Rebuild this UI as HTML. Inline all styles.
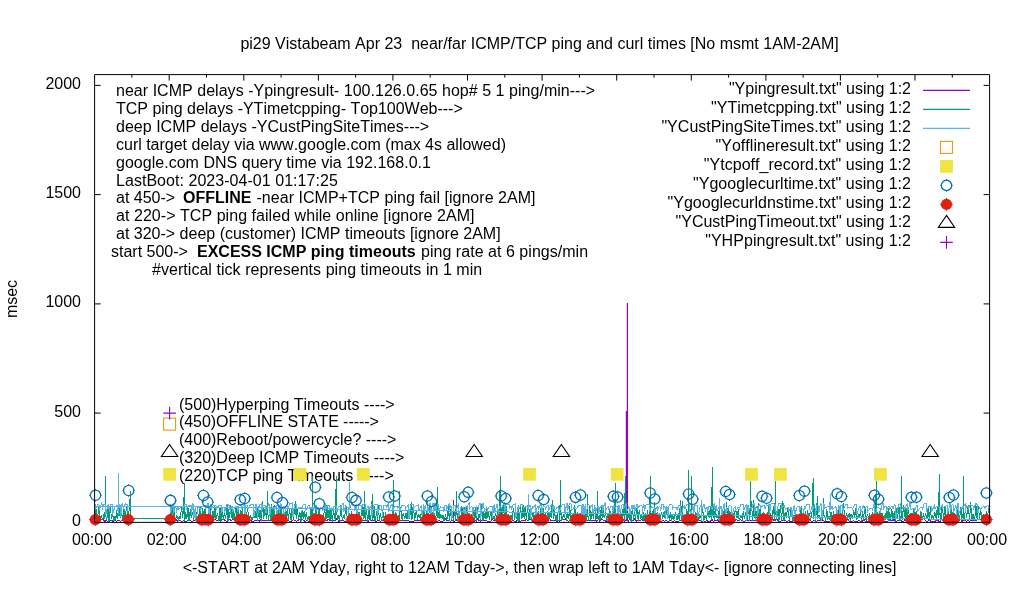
<!DOCTYPE html><html><head><meta charset="utf-8"><style>html,body{margin:0;padding:0;background:#fff;}svg{display:block;}g.t{opacity:0.999;}text{font-kerning:none;font-family:"Liberation Sans",sans-serif;font-size:16px;fill:#000;}</style></head><body>
<svg width="1020" height="600" viewBox="0 0 1020 600">
<rect width="1020" height="600" fill="#fff"/>
<path d="M94.6,522.4 h6 M989.6,522.4 h-6 M94.6,413.1 h6 M989.6,413.1 h-6 M94.6,303.9 h6 M989.6,303.9 h-6 M94.6,194.6 h6 M989.6,194.6 h-6 M94.6,85.4 h6 M989.6,85.4 h-6 M131.9,74.6 v3 M131.9,522.4 v-3 M169.2,74.6 v6 M169.2,522.4 v-6 M206.5,74.6 v3 M206.5,522.4 v-3 M243.8,74.6 v6 M243.8,522.4 v-6 M281.1,74.6 v3 M281.1,522.4 v-3 M318.4,74.6 v6 M318.4,522.4 v-6 M355.6,74.6 v3 M355.6,522.4 v-3 M392.9,74.6 v6 M392.9,522.4 v-6 M430.2,74.6 v3 M430.2,522.4 v-3 M467.5,74.6 v6 M467.5,522.4 v-6 M504.8,74.6 v3 M504.8,522.4 v-3 M542.1,74.6 v6 M542.1,522.4 v-6 M579.4,74.6 v3 M579.4,522.4 v-3 M616.7,74.6 v6 M616.7,522.4 v-6 M654.0,74.6 v3 M654.0,522.4 v-3 M691.3,74.6 v6 M691.3,522.4 v-6 M728.6,74.6 v3 M728.6,522.4 v-3 M765.9,74.6 v6 M765.9,522.4 v-6 M803.1,74.6 v3 M803.1,522.4 v-3 M840.4,74.6 v6 M840.4,522.4 v-6 M877.7,74.6 v3 M877.7,522.4 v-3 M915.0,74.6 v6 M915.0,522.4 v-6 M952.3,74.6 v3 M952.3,522.4 v-3" fill="none" stroke="#000" stroke-width="1"/>
<g class="t">
<text x="539.6" y="49.0" text-anchor="middle" xml:space="preserve">pi29 Vistabeam Apr 23  near/far ICMP/TCP ping and curl times [No msmt 1AM-2AM]</text>
<text x="81.0" y="525.9" text-anchor="end" xml:space="preserve">0</text>
<text x="81.0" y="416.6" text-anchor="end" xml:space="preserve">500</text>
<text x="81.0" y="307.4" text-anchor="end" xml:space="preserve">1000</text>
<text x="81.0" y="198.1" text-anchor="end" xml:space="preserve">1500</text>
<text x="81.0" y="88.9" text-anchor="end" xml:space="preserve">2000</text>
<text x="92.1" y="545.0" text-anchor="middle" xml:space="preserve">00:00</text>
<text x="166.7" y="545.0" text-anchor="middle" xml:space="preserve">02:00</text>
<text x="241.3" y="545.0" text-anchor="middle" xml:space="preserve">04:00</text>
<text x="315.9" y="545.0" text-anchor="middle" xml:space="preserve">06:00</text>
<text x="390.4" y="545.0" text-anchor="middle" xml:space="preserve">08:00</text>
<text x="465.0" y="545.0" text-anchor="middle" xml:space="preserve">10:00</text>
<text x="539.6" y="545.0" text-anchor="middle" xml:space="preserve">12:00</text>
<text x="614.2" y="545.0" text-anchor="middle" xml:space="preserve">14:00</text>
<text x="688.8" y="545.0" text-anchor="middle" xml:space="preserve">16:00</text>
<text x="763.4" y="545.0" text-anchor="middle" xml:space="preserve">18:00</text>
<text x="837.9" y="545.0" text-anchor="middle" xml:space="preserve">20:00</text>
<text x="912.5" y="545.0" text-anchor="middle" xml:space="preserve">22:00</text>
<text x="987.1" y="545.0" text-anchor="middle" xml:space="preserve">00:00</text>
<text x="539.5" y="573.0" text-anchor="middle" xml:space="preserve">&lt;-START at 2AM Yday, right to 12AM Tday-&gt;, then wrap left to 1AM Tday&lt;- [ignore connecting lines]</text>
<text x="17" y="299" text-anchor="middle" transform="rotate(-90 17 299)">msec</text>
<text x="116.0" y="96.0" textLength="479.16" lengthAdjust="spacing" xml:space="preserve">near ICMP delays -Ypingresult- 100.126.0.65 hop# 5 1 ping/min---&gt;</text>
<text x="116.0" y="113.8" textLength="346.75" lengthAdjust="spacing" xml:space="preserve">TCP ping delays -YTimetcpping- Top100Web---&gt;</text>
<text x="116.0" y="131.7" textLength="313.15" lengthAdjust="spacing" xml:space="preserve">deep ICMP delays -YCustPingSiteTimes---&gt;</text>
<text x="116.0" y="149.6" textLength="389.98" lengthAdjust="spacing" xml:space="preserve">curl target delay via www.google.com (max 4s allowed)</text>
<text x="116.0" y="167.7" textLength="314.95" lengthAdjust="spacing" xml:space="preserve">google.com DNS query time via 192.168.0.1</text>
<text x="116.0" y="186.0" textLength="221.82" lengthAdjust="spacing" xml:space="preserve">LastBoot: 2023-04-01 01:17:25</text>
<text x="116.0" y="203.1" xml:space="preserve">at 450-&gt;</text>
<text x="183.0" y="203.1" font-weight="bold" xml:space="preserve">OFFLINE</text>
<text x="256.5" y="203.1" textLength="278.99" lengthAdjust="spacing" xml:space="preserve">-near ICMP+TCP ping fail [ignore 2AM]</text>
<text x="116.0" y="221.0" textLength="358.50" lengthAdjust="spacing" xml:space="preserve">at 220-&gt; TCP ping failed while online [ignore 2AM]</text>
<text x="116.0" y="238.8" xml:space="preserve">at 320-&gt; deep (customer) ICMP timeouts [ignore 2AM]</text>
<text x="111.0" y="256.6" xml:space="preserve">start 500-&gt;</text>
<text x="197.0" y="256.6" font-weight="bold" xml:space="preserve">EXCESS ICMP ping timeouts</text>
<text x="421.0" y="256.6" textLength="167.12" lengthAdjust="spacing" xml:space="preserve">ping rate at 6 pings/min</text>
<text x="152.0" y="274.5" textLength="330.24" lengthAdjust="spacing" xml:space="preserve">#vertical tick represents ping timeouts in 1 min</text>
<text x="911.0" y="94.4" text-anchor="end" xml:space="preserve">"Ypingresult.txt" using 1:2</text>
<text x="911.0" y="113.4" text-anchor="end" xml:space="preserve">"YTimetcpping.txt" using 1:2</text>
<text x="911.0" y="132.4" text-anchor="end" textLength="249.60" lengthAdjust="spacing" xml:space="preserve">"YCustPingSiteTimes.txt" using 1:2</text>
<text x="911.0" y="151.4" text-anchor="end" textLength="195.47" lengthAdjust="spacing" xml:space="preserve">"Yofflineresult.txt" using 1:2</text>
<text x="911.0" y="170.4" text-anchor="end" textLength="207.23" lengthAdjust="spacing" xml:space="preserve">"Ytcpoff_record.txt" using 1:2</text>
<text x="911.0" y="189.4" text-anchor="end" textLength="218.00" lengthAdjust="spacing" xml:space="preserve">"Ygooglecurltime.txt" using 1:2</text>
<text x="911.0" y="208.4" text-anchor="end" textLength="243.50" lengthAdjust="spacing" xml:space="preserve">"Ygooglecurldnstime.txt" using 1:2</text>
<text x="911.0" y="227.4" text-anchor="end" xml:space="preserve">"YCustPingTimeout.txt" using 1:2</text>
<text x="911.0" y="246.4" text-anchor="end" textLength="205.85" lengthAdjust="spacing" xml:space="preserve">"YHPpingresult.txt" using 1:2</text>
<text x="179.0" y="409.7" xml:space="preserve">(500)Hyperping Timeouts ----&gt;</text>
<text x="179.0" y="426.9" textLength="199.75" lengthAdjust="spacing" xml:space="preserve">(450)OFFLINE STATE -----&gt;</text>
<text x="179.0" y="445.2" xml:space="preserve">(400)Reboot/powercycle? ----&gt;</text>
<text x="179.0" y="463.4" xml:space="preserve">(320)Deep ICMP Timeouts ----&gt;</text>
<text x="179.0" y="480.9" xml:space="preserve">(220)TCP ping Timeouts -----&gt;</text>
</g>
<clipPath id="cp"><rect x="94.6" y="74.6" width="895.0" height="447.8"/></clipPath>
<g clip-path="url(#cp)">
<path d="M94.6,519.5 L96.6,519.8 L98.6,520.9 L99.6,521.4 L101.0,520.0 L102.9,518.9 L104.7,521.4 L106.3,520.7 L107.8,521.3 L109.7,521.0 L110.8,520.9 L111.9,520.7 L113.0,521.3 L114.7,520.7 L116.0,521.1 L117.8,520.9 L119.8,520.8 L120.8,521.3 L122.1,520.6 L124.1,520.6 L125.8,521.3 L127.7,520.8 L129.6,519.5 L131.7,519.4 L130.9,518.4 L168.2,518.4 L169.2,520.7 L170.2,520.7 L172.1,520.8 L173.6,519.8 L175.8,519.4 L177.5,521.1 L178.8,519.6 L180.0,520.9 L182.1,521.1 L183.7,521.0 L185.0,521.3 L187.2,521.0 L188.7,520.7 L190.0,520.8 L191.0,521.1 L192.7,521.1 L194.1,520.8 L196.0,519.4 L197.6,520.9 L199.2,520.7 L201.3,521.4 L203.1,520.6 L204.8,521.2 L206.3,521.1 L208.0,520.7 L209.8,521.4 L211.4,520.9 L212.6,521.2 L213.7,518.6 L215.8,519.9 L217.3,520.7 L218.8,518.7 L220.4,521.2 L222.1,519.4 L223.4,518.6 L225.2,520.7 L226.5,521.1 L227.8,521.2 L229.8,519.3 L231.2,520.9 L233.0,518.9 L235.1,521.1 L236.7,521.4 L238.6,518.5 L239.6,520.6 L240.8,518.5 L242.0,520.9 L243.6,521.3 L245.3,520.8 L246.7,521.3 L248.3,521.2 L249.6,520.8 L250.8,520.8 L252.7,521.4 L254.1,521.0 L255.2,520.7 L256.2,520.8 L257.5,520.7 L259.4,521.0 L261.0,519.7 L262.3,520.7 L263.9,520.8 L266.1,519.9 L267.6,520.9 L268.7,519.5 L270.1,520.9 L272.1,521.0 L273.2,520.9 L274.5,521.1 L276.0,520.7 L277.6,521.4 L279.1,521.1 L280.3,520.6 L282.4,520.6 L284.3,521.2 L285.3,521.2 L286.6,519.4 L288.2,520.8 L289.8,521.1 L291.5,521.3 L293.2,519.7 L295.1,520.8 L296.2,521.1 L297.9,520.8 L299.2,519.0 L300.6,521.1 L302.5,519.6 L304.7,521.1 L306.1,521.0 L307.7,520.8 L309.3,521.3 L311.5,520.6 L313.6,521.4 L315.4,518.8 L317.0,521.0 L319.0,520.7 L320.3,521.1 L322.2,519.6 L323.8,520.8 L325.5,519.5 L326.5,520.8 L328.5,519.3 L329.8,520.9 L331.5,520.7 L332.5,520.9 L334.6,520.8 L336.7,518.9 L338.9,521.2 L340.0,520.9 L341.4,520.7 L343.4,520.9 L345.6,521.3 L347.8,521.1 L348.8,521.1 L349.8,520.9 L351.4,520.7 L353.2,520.9 L355.3,520.8 L357.5,521.0 L359.4,520.9 L361.2,521.1 L362.3,520.8 L363.5,520.6 L365.1,520.7 L367.0,521.0 L368.4,521.0 L369.8,519.1 L371.8,521.0 L373.0,519.9 L375.2,521.1 L376.8,521.0 L378.6,520.7 L380.6,521.2 L382.2,520.6 L383.2,519.8 L384.9,521.1 L386.0,520.9 L387.8,520.8 L389.4,520.6 L390.6,521.0 L392.9,521.2 L395.1,521.2 L396.1,521.0 L398.0,521.2 L399.0,519.4 L400.6,520.7 L401.8,520.6 L403.6,520.7 L405.7,521.0 L406.9,520.7 L407.9,520.8 L410.1,521.3 L411.9,521.2 L413.2,521.2 L415.0,520.7 L417.0,520.7 L418.4,520.6 L419.9,520.8 L420.9,519.6 L422.2,520.7 L423.5,520.7 L425.4,520.7 L427.5,519.3 L428.6,521.3 L430.5,519.2 L432.0,521.1 L434.2,519.8 L435.6,521.1 L437.8,521.2 L439.0,520.8 L440.3,521.0 L441.6,521.2 L443.7,520.8 L445.2,518.8 L446.2,520.6 L447.9,520.7 L449.6,520.8 L450.8,521.1 L452.6,520.8 L453.2,521.0 L453.3,500.0 L453.4,521.0 L454.5,521.2 L456.5,520.0 L458.5,521.1 L459.6,521.1 L461.0,519.3 L462.4,520.7 L464.5,521.4 L466.0,521.4 L467.0,520.6 L469.2,520.7 L470.2,521.4 L472.4,521.2 L474.0,521.1 L475.1,520.9 L476.5,521.2 L477.6,518.8 L479.3,520.9 L480.4,521.1 L482.5,520.9 L484.6,521.0 L485.6,520.7 L487.2,521.1 L488.6,521.3 L490.1,521.1 L491.2,520.9 L492.2,518.8 L493.4,520.7 L494.7,520.6 L496.5,519.8 L497.7,521.1 L499.5,520.8 L500.6,520.7 L502.6,521.4 L504.4,520.9 L505.8,520.6 L507.3,521.3 L509.4,519.0 L511.3,521.2 L512.7,520.7 L514.6,521.2 L516.3,521.2 L518.2,519.4 L520.0,521.4 L521.4,520.8 L523.3,520.8 L525.0,521.0 L526.1,518.6 L527.9,521.0 L529.5,519.2 L531.5,520.0 L532.5,521.3 L534.7,521.3 L536.5,519.9 L537.6,521.1 L539.5,521.3 L541.5,521.1 L543.4,520.8 L544.5,521.1 L545.9,521.1 L547.9,521.4 L549.3,518.5 L551.4,520.9 L553.0,520.7 L554.8,520.8 L556.3,521.1 L557.3,521.2 L558.4,520.9 L559.8,521.1 L562.0,518.7 L563.7,519.4 L565.5,518.7 L567.0,520.8 L568.8,521.3 L570.0,520.6 L571.9,521.1 L573.0,520.8 L574.6,521.3 L576.0,521.2 L577.4,520.9 L579.4,519.2 L581.1,521.2 L582.2,520.8 L583.6,520.6 L584.9,521.3 L586.7,520.8 L588.1,519.8 L590.1,520.9 L591.6,520.7 L593.7,520.7 L595.8,520.8 L597.0,521.2 L598.4,519.5 L599.7,521.0 L601.8,518.9 L604.0,520.8 L606.2,521.1 L607.2,521.2 L608.8,521.3 L610.8,518.8 L612.2,520.9 L613.2,519.2 L614.2,520.8 L615.3,520.7 L616.8,520.9 L619.0,520.7 L621.1,521.3 L623.2,519.9 L624.6,521.1 L626.1,519.7 L628.3,521.2 L629.5,519.7 L631.4,521.3 L632.4,521.0 L634.6,518.8 L636.1,521.2 L638.3,520.0 L640.2,520.9 L641.8,519.1 L643.1,520.9 L645.3,520.7 L646.3,521.0 L647.9,518.6 L649.2,520.9 L650.7,520.7 L652.3,521.2 L653.8,520.9 L655.4,520.6 L657.1,520.8 L658.8,520.7 L660.6,521.1 L662.7,520.9 L664.9,521.1 L666.3,520.8 L668.1,521.3 L669.0,520.9 L671.1,520.7 L672.6,521.2 L674.3,520.9 L676.5,521.4 L678.2,521.1 L679.7,520.8 L681.5,521.0 L683.8,521.2 L685.0,521.0 L686.0,520.9 L687.5,520.7 L689.7,518.7 L690.9,520.7 L692.7,519.8 L694.1,519.8 L696.3,521.2 L697.8,519.4 L698.8,519.6 L700.4,520.8 L702.2,521.3 L703.7,520.9 L705.1,521.2 L706.9,520.8 L708.4,521.4 L710.4,521.3 L712.1,519.7 L713.2,521.3 L714.4,520.7 L715.6,520.7 L717.7,519.9 L718.8,521.3 L720.3,521.3 L721.7,521.3 L722.7,519.0 L724.4,521.3 L726.0,520.7 L727.3,520.6 L728.7,519.8 L730.0,521.2 L731.8,520.9 L733.3,520.9 L735.0,520.8 L736.1,519.1 L738.2,520.9 L740.1,519.3 L741.9,520.7 L743.5,521.2 L744.8,521.4 L746.4,519.7 L748.4,520.9 L749.5,521.0 L751.7,520.7 L753.5,521.0 L755.0,520.6 L756.6,521.0 L758.5,521.1 L760.2,520.8 L761.6,521.3 L763.3,521.0 L764.6,521.1 L766.8,521.2 L768.5,518.8 L769.5,519.8 L771.5,520.8 L772.7,519.3 L774.9,521.1 L776.4,518.8 L778.5,521.2 L780.0,521.1 L782.2,520.9 L784.0,521.0 L785.4,520.8 L786.6,521.3 L788.4,520.9 L789.9,521.2 L792.1,521.3 L793.3,520.9 L794.5,521.0 L796.1,521.2 L798.0,521.1 L799.1,521.1 L800.3,521.0 L801.9,520.8 L803.7,520.7 L805.8,520.8 L808.0,520.7 L809.6,519.2 L811.6,521.4 L813.1,520.9 L814.7,521.0 L816.3,521.1 L818.0,520.8 L820.1,520.9 L821.6,519.0 L823.3,520.9 L824.4,521.3 L826.6,521.1 L828.0,521.3 L829.1,521.3 L830.6,520.9 L832.5,521.3 L834.6,521.2 L835.6,521.0 L837.0,521.2 L838.8,520.8 L840.2,521.2 L842.4,521.0 L843.4,521.1 L845.1,519.0 L846.1,521.2 L848.0,518.7 L849.2,521.2 L850.6,521.2 L852.3,521.4 L853.3,520.8 L855.2,521.2 L857.3,521.1 L859.4,520.9 L861.1,521.2 L862.6,521.0 L864.0,519.5 L865.0,521.1 L866.3,521.3 L867.6,521.0 L869.2,521.0 L870.6,521.0 L871.9,520.6 L873.7,519.0 L875.0,521.2 L876.3,520.6 L878.4,521.1 L879.9,521.0 L881.6,521.1 L883.3,521.3 L885.5,521.4 L887.2,521.1 L888.8,520.9 L889.8,519.6 L892.0,520.9 L894.1,519.7 L895.3,521.1 L896.3,521.3 L897.9,520.6 L900.0,520.6 L902.2,521.2 L903.9,521.2 L905.0,519.1 L906.1,521.2 L907.6,518.8 L909.2,521.3 L910.6,521.4 L912.8,521.1 L914.4,520.7 L916.4,521.2 L917.9,521.1 L919.4,520.9 L920.5,520.6 L922.0,518.6 L924.2,519.0 L925.5,520.6 L926.6,521.4 L927.9,521.0 L929.2,518.9 L930.7,521.3 L932.4,521.1 L933.8,521.3 L935.7,521.2 L936.7,519.1 L938.6,521.2 L940.2,521.2 L941.4,518.5 L943.4,521.2 L945.1,520.9 L947.2,521.2 L949.1,520.7 L951.1,520.9 L953.2,520.7 L954.8,521.1 L955.8,518.9 L957.0,519.8 L958.5,521.3 L960.6,519.5 L961.8,521.2 L963.2,520.8 L965.3,520.9 L966.3,521.2 L968.2,520.8 L969.7,521.2 L970.6,520.9 L972.0,519.6 L973.5,520.8 L975.3,521.0 L977.1,519.6 L979.1,519.2 L981.3,519.0 L982.9,521.3 L985.0,521.0 L986.4,520.0 L988.3,520.9" fill="none" stroke="#9400d3" stroke-width="1.00" shape-rendering="crispEdges"/>
<path d="M627.4,520 V303 M626.4,520 V411" stroke="#9400d3" stroke-width="1.2" fill="none"/>
<path d="M94.6,520.0 L96.2,508.6 L97.5,519.8 L98.8,505.7 L99.8,520.8 L101.2,515.9 L102.9,520.2 L103.7,513.6 L104.5,518.8 L105.3,508.1 L105.4,476.0 L105.5,515.0 L106.8,520.2 L108.0,508.2 L109.0,521.5 L110.5,507.2 L111.4,518.2 L112.9,515.2 L114.0,521.0 L114.7,515.6 L115.9,519.4 L116.7,510.4 L117.6,519.2 L119.3,505.8 L120.2,518.2 L121.7,513.8 L122.9,520.6 L123.7,505.8 L124.9,518.9 L126.5,507.1 L128.1,519.4 L129.6,505.7 L130.5,491.0 L130.6,515.0 L131.3,518.9 L132.4,518.7 L169.2,518.7 L169.2,519.0 L170.0,513.9 L170.9,519.3 L172.1,503.9 L173.4,518.6 L174.2,506.5 L175.2,520.6 L176.8,515.8 L178.4,519.5 L179.2,515.8 L180.1,518.9 L181.7,507.1 L182.5,518.2 L183.5,511.0 L184.5,483.5 L184.6,515.0 L184.8,521.2 L185.7,512.3 L186.9,518.6 L187.9,505.9 L189.0,521.4 L190.3,509.1 L191.2,518.1 L192.8,511.7 L193.5,519.7 L195.0,516.0 L195.7,520.6 L197.3,509.9 L198.8,519.2 L200.2,507.0 L201.3,521.0 L202.6,507.7 L203.9,518.3 L205.2,507.0 L206.6,520.6 L207.9,515.2 L208.7,518.1 L210.0,506.6 L211.4,520.2 L213.0,511.1 L214.0,518.7 L214.9,505.3 L216.0,519.1 L217.4,513.2 L218.9,521.1 L220.0,507.2 L220.8,520.9 L222.3,511.7 L223.3,519.6 L224.3,513.1 L225.6,519.1 L227.2,503.6 L228.0,521.1 L228.7,509.0 L229.7,518.1 L230.6,505.2 L232.1,518.5 L232.9,508.1 L234.2,520.8 L235.8,506.4 L237.0,518.0 L238.2,506.3 L239.2,520.4 L240.4,510.3 L241.5,521.2 L242.3,505.8 L243.1,520.2 L244.7,513.8 L246.3,521.3 L247.4,506.4 L248.9,520.2 L250.3,515.5 L251.9,519.9 L253.4,515.5 L255.0,518.3 L256.1,510.4 L257.3,520.8 L258.1,506.2 L259.1,518.5 L260.0,510.1 L261.5,521.3 L262.7,500.7 L263.6,519.0 L265.0,508.7 L266.6,519.1 L267.5,490.9 L267.6,515.0 L267.7,511.3 L268.6,521.4 L269.8,506.4 L271.0,520.1 L271.8,504.1 L272.9,520.0 L274.1,505.5 L275.3,521.3 L276.9,513.4 L277.8,520.9 L279.3,507.2 L280.2,521.2 L281.1,505.2 L282.0,520.4 L283.0,514.1 L283.8,518.4 L285.1,512.0 L286.3,519.3 L287.4,506.1 L288.3,520.2 L289.5,509.3 L291.1,520.6 L292.6,502.5 L293.6,518.8 L295.3,501.1 L296.2,518.9 L297.1,508.0 L298.5,519.4 L299.9,512.0 L301.3,521.4 L302.1,510.3 L303.3,518.7 L304.1,511.2 L305.4,520.0 L306.2,512.0 L307.7,521.2 L308.6,515.8 L309.7,519.1 L310.9,508.0 L312.2,520.5 L312.4,476.0 L312.5,515.0 L313.7,513.3 L315.1,518.7 L316.0,505.1 L317.6,520.5 L319.1,507.8 L320.4,521.4 L321.9,515.6 L323.4,520.9 L324.5,507.0 L325.9,520.7 L327.0,505.5 L328.0,518.0 L329.1,509.4 L330.0,520.3 L331.1,509.0 L332.3,521.5 L333.6,510.3 L335.3,520.2 L336.3,476.0 L336.4,515.0 L336.7,513.0 L337.5,519.3 L338.3,515.5 L339.6,521.4 L340.8,505.1 L342.3,520.1 L343.8,515.7 L344.6,518.6 L345.8,505.4 L347.5,519.8 L348.8,512.4 L350.1,519.0 L351.5,511.1 L352.5,518.5 L353.9,515.5 L355.4,521.5 L357.0,515.5 L358.1,521.4 L359.1,511.6 L360.5,521.4 L362.0,505.8 L363.3,518.7 L364.1,505.9 L364.6,491.0 L364.7,515.0 L365.2,519.6 L366.2,507.9 L367.7,521.5 L369.3,506.7 L370.1,520.7 L371.4,512.4 L372.4,494.0 L372.5,515.0 L372.8,520.1 L374.2,506.3 L375.1,521.2 L376.7,511.3 L377.7,520.2 L378.5,505.5 L379.3,519.9 L380.6,513.4 L381.5,520.6 L383.0,511.6 L384.5,520.7 L385.5,512.3 L387.0,520.3 L388.6,513.7 L390.1,519.5 L391.1,515.4 L391.9,520.0 L393.1,507.1 L393.5,480.2 L393.6,515.0 L394.6,518.7 L395.9,512.5 L397.4,519.0 L398.2,514.6 L399.3,520.5 L399.5,491.0 L399.6,515.0 L400.6,507.5 L402.2,520.8 L403.2,513.0 L404.8,518.9 L405.9,512.8 L407.0,518.7 L408.2,508.8 L409.7,518.6 L411.2,502.3 L411.9,519.9 L413.2,505.2 L414.7,519.9 L416.2,511.4 L417.6,518.3 L418.9,514.7 L420.3,518.8 L421.7,510.4 L422.8,521.4 L424.2,508.8 L425.6,521.2 L426.7,509.7 L428.2,520.9 L429.8,505.1 L431.0,520.8 L432.2,511.7 L433.6,519.3 L434.5,513.1 L435.5,518.2 L436.5,514.2 L437.5,487.0 L437.6,515.0 L438.0,518.2 L439.1,511.4 L439.9,518.6 L440.8,514.6 L442.1,518.6 L443.1,514.8 L444.1,520.9 L445.3,515.4 L446.9,519.9 L448.5,506.5 L449.3,520.8 L450.4,508.6 L451.4,520.3 L452.3,513.4 L453.4,520.5 L454.7,511.8 L455.7,521.0 L456.5,491.0 L456.6,515.0 L456.9,512.0 L457.9,518.5 L459.4,515.1 L460.9,518.3 L461.9,505.7 L463.1,521.3 L464.3,507.1 L465.8,521.2 L466.6,506.5 L467.9,518.6 L469.4,512.6 L470.2,519.6 L471.6,514.4 L472.4,519.6 L474.1,509.6 L474.8,520.5 L475.7,508.2 L476.5,520.8 L477.4,507.0 L478.5,519.0 L479.5,514.3 L480.5,520.6 L481.5,504.5 L482.9,520.9 L483.7,511.5 L485.1,518.6 L486.2,509.1 L487.0,518.5 L487.9,511.4 L489.5,519.8 L490.8,510.7 L491.9,519.4 L492.6,514.5 L494.3,520.3 L495.6,512.7 L496.6,518.4 L497.7,510.5 L499.2,518.6 L500.4,476.0 L500.5,515.0 L500.7,504.4 L501.8,518.5 L503.2,504.1 L504.6,518.7 L506.2,506.4 L507.0,520.0 L508.4,515.6 L509.4,518.4 L511.1,515.5 L512.3,520.0 L513.3,507.9 L514.8,518.4 L516.3,515.5 L517.3,520.9 L518.2,505.5 L518.9,521.5 L520.6,507.2 L521.9,519.3 L523.2,505.1 L524.1,518.5 L525.2,506.2 L526.4,520.0 L527.5,505.3 L528.8,521.4 L530.1,507.9 L531.4,520.7 L532.9,512.0 L534.4,519.4 L535.6,511.3 L536.8,519.5 L538.4,511.3 L539.8,520.6 L541.1,507.1 L542.4,518.4 L543.5,507.8 L544.3,519.8 L545.2,513.0 L546.2,521.2 L547.8,511.1 L549.0,518.8 L550.4,511.3 L551.2,518.4 L552.4,500.0 L553.4,519.1 L554.2,506.5 L555.3,520.0 L556.0,515.5 L557.1,521.3 L558.7,506.4 L559.7,521.1 L560.5,480.0 L560.6,515.0 L560.6,507.5 L561.8,521.1 L563.5,514.2 L564.4,518.2 L565.2,507.2 L566.8,520.5 L567.6,511.6 L568.8,518.8 L569.8,506.4 L570.7,520.3 L572.2,514.3 L573.7,518.8 L574.7,505.3 L575.7,518.3 L577.4,513.6 L578.6,520.1 L579.6,515.0 L580.4,520.6 L581.4,513.7 L582.3,521.5 L583.0,510.3 L584.1,519.7 L585.0,509.5 L586.1,520.7 L587.3,510.9 L587.5,494.0 L587.6,515.0 L588.7,521.3 L589.6,506.2 L590.9,519.5 L592.3,510.5 L593.3,518.8 L594.5,505.2 L595.8,520.0 L597.4,511.8 L597.4,491.0 L597.5,515.0 L598.1,519.5 L599.3,515.0 L600.1,520.0 L601.3,506.7 L602.2,518.1 L603.2,508.7 L604.2,518.3 L605.7,512.3 L606.5,520.9 L608.0,513.1 L609.1,521.4 L609.9,510.3 L611.5,519.6 L613.0,512.2 L614.5,519.4 L615.4,483.0 L615.5,515.0 L615.5,511.4 L616.3,520.7 L617.7,512.3 L619.0,519.6 L620.6,512.7 L622.2,518.1 L623.3,505.4 L624.4,521.0 L625.4,476.0 L625.5,515.0 L625.7,503.7 L626.8,519.3 L628.2,512.7 L629.1,518.6 L630.1,513.3 L631.1,521.5 L632.4,506.4 L633.5,520.4 L634.6,511.1 L635.5,519.4 L637.1,506.9 L638.2,521.3 L639.2,510.1 L640.8,519.1 L641.9,515.4 L643.0,519.8 L643.7,512.2 L644.5,520.1 L645.2,513.1 L646.5,520.5 L647.4,509.7 L648.3,519.0 L649.7,512.9 L650.5,476.0 L650.6,515.0 L651.3,519.0 L652.3,511.2 L653.1,520.0 L654.6,502.4 L655.9,518.8 L657.3,511.7 L658.9,520.2 L659.7,513.0 L660.4,519.1 L661.6,511.8 L662.7,518.6 L664.1,511.5 L665.1,518.5 L666.4,508.9 L667.8,519.4 L668.9,513.0 L669.7,520.1 L670.8,512.3 L671.6,521.1 L672.8,514.3 L673.7,520.2 L675.4,513.9 L677.0,520.2 L678.3,513.1 L679.3,521.1 L680.4,500.3 L681.2,519.1 L682.3,501.2 L683.2,520.4 L684.2,513.7 L685.2,519.7 L686.6,509.4 L687.9,521.4 L688.5,470.0 L688.6,515.0 L688.9,515.4 L689.9,520.4 L691.3,506.6 L691.5,476.0 L691.6,515.0 L692.2,519.7 L693.4,512.4 L694.9,518.8 L695.8,511.9 L697.0,518.2 L697.8,514.5 L698.7,520.7 L699.8,515.3 L701.4,518.9 L702.6,507.7 L704.0,520.5 L705.0,514.8 L706.6,520.0 L707.7,509.4 L709.2,518.4 L710.3,506.6 L711.2,520.0 L712.5,467.0 L712.6,515.0 L712.8,501.1 L714.2,520.2 L715.3,507.9 L716.1,518.4 L716.8,514.7 L718.5,519.2 L719.2,508.4 L720.3,520.8 L721.8,513.0 L723.2,521.4 L724.2,508.8 L725.7,518.6 L726.6,502.0 L727.7,519.1 L728.5,506.0 L729.8,518.8 L731.0,512.3 L731.8,521.1 L732.8,511.9 L734.0,518.7 L735.5,507.9 L737.0,518.2 L738.3,509.4 L739.2,521.0 L740.9,515.2 L742.3,518.1 L743.2,511.4 L744.3,519.1 L745.5,512.1 L747.1,519.8 L748.6,510.1 L749.7,520.9 L750.7,481.0 L750.8,515.0 L751.2,500.8 L752.8,520.5 L753.8,500.2 L755.1,519.4 L756.1,510.7 L757.2,519.2 L758.2,502.6 L759.0,520.6 L759.9,508.8 L761.3,518.4 L762.2,513.2 L762.9,519.4 L763.9,511.7 L764.8,519.1 L766.3,515.9 L767.4,518.8 L768.5,506.2 L769.5,521.3 L770.5,512.8 L772.2,520.2 L773.3,506.5 L774.6,521.0 L775.5,481.0 L775.6,515.0 L775.9,509.0 L776.7,520.4 L777.9,507.9 L779.0,520.1 L780.3,505.2 L781.6,520.1 L782.9,501.2 L784.0,520.6 L785.1,511.9 L786.2,518.4 L787.8,506.6 L789.4,521.3 L790.9,508.6 L792.6,521.0 L794.0,515.0 L795.1,521.0 L796.0,514.2 L796.8,520.8 L798.0,515.0 L799.5,519.9 L801.1,506.1 L802.2,518.1 L803.3,510.8 L804.1,519.4 L805.6,511.3 L806.4,518.7 L807.7,510.1 L808.6,519.5 L809.4,512.6 L810.7,520.1 L812.1,511.6 L813.2,478.0 L813.3,515.0 L813.5,518.5 L814.3,504.9 L815.4,521.5 L816.8,507.5 L817.3,496.0 L817.4,515.0 L817.8,518.5 L819.1,515.1 L820.2,519.8 L821.8,514.5 L822.8,519.0 L823.3,498.0 L823.4,515.0 L824.3,515.3 L825.7,521.3 L826.8,509.2 L828.0,519.5 L828.9,515.8 L829.9,520.4 L830.9,511.7 L832.5,519.5 L833.5,511.0 L834.8,518.3 L836.4,512.8 L837.5,520.3 L838.5,507.6 L839.3,519.6 L840.3,507.2 L841.7,521.4 L843.4,503.2 L844.9,520.5 L846.6,513.3 L847.7,518.8 L849.3,512.8 L850.2,520.6 L851.0,514.2 L852.3,518.9 L853.8,510.4 L854.6,518.1 L856.2,507.2 L856.9,519.9 L858.2,514.9 L859.2,518.4 L860.4,511.4 L861.6,520.7 L862.6,511.3 L863.5,520.0 L864.7,505.7 L866.2,521.4 L867.4,514.1 L869.0,519.4 L869.7,515.1 L871.2,518.5 L872.4,511.6 L873.4,520.3 L874.9,513.1 L875.7,518.4 L876.2,481.0 L876.3,515.0 L877.3,513.4 L878.7,521.3 L879.9,511.3 L881.0,520.6 L882.0,513.1 L883.2,519.5 L884.3,515.2 L885.1,519.9 L886.2,511.5 L887.3,519.7 L888.2,508.4 L889.0,521.4 L889.7,511.7 L890.8,519.3 L891.8,509.1 L892.8,519.8 L894.2,511.5 L895.2,520.8 L896.3,507.8 L897.3,518.3 L899.0,507.3 L900.0,520.8 L901.3,514.8 L901.4,476.0 L901.5,515.0 L902.1,519.9 L903.7,505.2 L905.3,520.0 L906.1,507.9 L907.4,521.2 L908.2,508.1 L909.7,519.6 L910.8,512.6 L912.2,518.4 L913.8,508.8 L914.6,519.1 L916.2,511.5 L917.1,519.9 L918.7,515.4 L919.8,519.5 L920.9,511.5 L922.1,519.4 L923.6,514.7 L924.5,518.7 L925.5,512.7 L926.8,519.4 L928.1,507.5 L929.4,521.4 L930.4,506.6 L931.4,520.0 L932.3,515.1 L933.4,519.5 L934.7,511.8 L936.3,519.7 L937.3,505.7 L938.3,518.1 L939.5,474.0 L939.6,515.0 L939.7,508.9 L940.7,521.3 L942.2,505.7 L943.6,518.7 L944.9,505.8 L946.3,521.1 L947.9,507.5 L949.6,519.0 L951.1,506.9 L952.1,519.9 L953.0,512.3 L953.9,519.0 L954.9,513.5 L956.4,521.0 L958.0,508.8 L959.4,520.3 L961.0,506.8 L961.8,519.3 L963.2,513.3 L963.5,476.0 L963.6,515.0 L964.3,521.3 L965.5,507.4 L966.5,518.4 L968.1,505.5 L969.7,520.0 L970.5,502.5 L972.1,520.3 L972.9,513.9 L974.5,521.0 L976.0,505.5 L977.2,519.8 L978.3,506.4 L979.7,519.7 L980.5,508.9 L982.1,518.5 L983.1,514.5 L984.8,521.3 L986.4,511.5 L987.1,520.1 L988.5,509.3" fill="none" stroke="#009e73" stroke-width="1.00" shape-rendering="crispEdges"/>
<path d="M169.2,504.4 L170.2,504.6 L170.4,513.5 L173.1,503.7 L173.6,503.5 L173.8,512.6 L175.1,507.5 L176.1,508.3 L176.3,512.7 L177.6,507.8 L178.6,507.2 L178.8,509.2 L181.3,506.5 L182.3,506.3 L182.5,509.4 L185.1,504.3 L186.1,504.7 L186.3,509.6 L188.3,505.8 L191.3,505.7 L191.5,515.1 L192.8,503.6 L193.8,504.5 L194.0,518.4 L195.3,506.4 L195.8,506.0 L196.0,520.8 L197.9,507.3 L199.9,506.4 L200.1,510.3 L202.3,506.1 L205.3,505.2 L205.5,508.9 L207.8,503.6 L208.8,503.4 L209.0,517.9 L210.1,505.0 L211.1,504.6 L211.3,509.3 L213.4,505.6 L216.4,506.1 L216.6,508.7 L218.7,505.4 L221.7,505.4 L221.9,512.6 L223.3,507.3 L224.3,507.3 L224.5,512.6 L226.9,504.9 L229.9,505.1 L230.1,512.7 L231.6,506.6 L232.6,506.6 L232.8,511.7 L235.2,506.6 L237.2,506.4 L237.4,512.2 L239.4,504.9 L241.4,504.1 L241.6,508.1 L243.6,504.8 L244.1,504.2 L244.3,519.4 L245.8,505.8 L247.8,505.5 L248.0,508.4 L250.5,504.9 L253.5,504.9 L253.7,518.2 L255.9,504.8 L256.9,505.2 L257.1,518.7 L259.5,504.3 L261.5,503.9 L261.7,512.6 L262.8,505.0 L265.8,505.4 L266.0,512.7 L268.5,504.2 L269.5,505.2 L269.7,515.5 L271.1,506.9 L274.1,507.2 L274.3,511.3 L276.1,505.3 L276.6,505.4 L276.8,518.1 L278.7,505.1 L279.2,505.9 L279.4,512.9 L280.8,504.0 L281.8,504.1 L282.0,509.4 L283.4,506.6 L283.9,506.2 L284.1,520.3 L285.6,506.3 L287.6,506.8 L287.8,509.4 L289.8,503.7 L292.8,502.8 L293.0,517.2 L294.5,505.1 L296.5,504.8 L296.7,508.3 L298.4,507.8 L301.4,507.6 L301.6,509.2 L303.4,504.0 L305.4,504.0 L305.6,511.1 L308.1,505.8 L309.1,505.9 L309.3,508.1 L310.5,507.9 L313.5,507.2 L313.7,509.4 L315.9,504.9 L316.4,505.3 L316.6,510.2 L317.9,507.8 L318.4,507.9 L318.6,510.3 L320.7,508.0 L322.7,508.1 L322.9,510.0 L325.0,506.3 L325.5,505.4 L325.7,509.2 L327.7,505.2 L329.7,505.7 L329.9,509.0 L331.4,507.9 L332.4,508.8 L332.6,509.7 L333.7,506.7 L336.7,506.6 L336.9,512.4 L338.4,506.7 L340.4,506.1 L340.6,509.0 L342.4,503.6 L343.4,503.8 L343.6,511.7 L345.7,506.5 L348.7,507.4 L348.9,516.2 L349.4,482.0 L349.5,510.0 L351.1,504.8 L354.1,505.7 L354.3,511.3 L356.1,504.5 L356.6,504.6 L356.8,515.7 L359.0,505.4 L361.0,504.9 L361.2,509.1 L363.0,504.4 L365.0,503.5 L365.2,512.1 L367.6,506.2 L368.6,506.6 L368.8,509.3 L371.1,505.9 L371.6,505.2 L371.8,515.6 L374.1,504.7 L377.1,504.4 L377.3,515.6 L379.9,505.7 L381.9,505.3 L382.1,516.4 L383.4,505.6 L386.4,505.7 L386.6,508.1 L388.1,503.7 L388.6,503.3 L388.8,511.5 L391.3,504.7 L392.3,504.9 L392.5,510.7 L394.2,507.0 L397.2,506.5 L397.4,508.6 L398.6,506.8 L399.6,505.9 L399.8,510.9 L402.0,505.0 L405.0,505.4 L405.2,509.7 L407.7,505.6 L408.7,504.7 L408.9,519.3 L410.4,505.1 L413.4,504.6 L413.6,508.8 L416.3,505.5 L418.3,504.8 L418.5,511.0 L420.9,506.2 L421.9,505.7 L422.1,520.0 L423.5,504.5 L424.0,505.2 L424.2,511.8 L426.4,503.6 L427.4,502.7 L427.6,512.9 L429.7,503.8 L430.2,503.6 L430.4,517.9 L432.4,504.2 L433.4,503.3 L433.6,514.8 L434.7,503.5 L435.7,503.1 L435.9,509.8 L437.6,504.3 L438.6,505.0 L438.8,510.6 L440.4,506.9 L443.4,507.5 L443.6,511.6 L445.1,505.1 L446.1,505.1 L446.3,510.7 L448.7,504.5 L449.2,504.1 L449.4,511.2 L450.5,505.8 L451.5,506.6 L451.7,518.5 L453.9,505.5 L455.9,505.5 L456.1,510.9 L458.3,504.4 L458.8,503.9 L459.0,517.3 L460.9,507.4 L463.9,507.1 L464.1,517.3 L465.3,507.1 L465.8,507.0 L466.0,520.2 L468.1,503.8 L469.1,502.9 L469.3,509.2 L471.2,506.4 L472.2,507.4 L472.4,517.9 L473.5,507.7 L476.5,506.8 L476.7,515.7 L479.3,504.0 L480.3,503.5 L480.5,518.8 L482.9,503.7 L483.9,504.2 L484.1,511.7 L486.6,507.9 L487.6,508.7 L487.8,509.6 L489.1,506.6 L492.1,506.2 L492.3,518.3 L494.0,505.4 L494.5,504.8 L494.7,512.6 L496.9,504.3 L497.9,504.1 L498.1,518.3 L499.3,506.4 L501.3,507.3 L501.5,508.0 L503.3,504.0 L504.3,503.1 L504.5,512.9 L506.2,504.2 L509.2,504.5 L509.4,509.0 L510.5,506.4 L511.5,506.3 L511.7,508.2 L513.6,504.1 L515.6,504.0 L515.8,518.0 L518.1,506.8 L518.6,506.5 L518.8,509.4 L520.9,504.6 L522.9,503.9 L523.1,508.7 L524.8,507.1 L527.8,506.3 L528.0,509.0 L528.4,494.0 L528.5,510.0 L529.2,506.4 L530.2,505.5 L530.4,519.3 L532.2,506.9 L532.7,506.6 L532.9,508.2 L535.0,505.0 L535.5,504.9 L535.7,519.8 L537.2,506.5 L538.2,506.3 L538.4,509.9 L540.7,503.7 L541.7,503.3 L541.9,513.0 L543.1,506.4 L545.1,507.1 L545.3,509.3 L547.3,505.4 L548.3,505.5 L548.5,510.9 L551.0,504.7 L552.0,505.4 L552.2,512.8 L553.5,506.0 L554.5,506.6 L554.7,510.2 L556.8,507.8 L558.8,507.2 L559.0,512.3 L561.7,505.1 L564.7,504.5 L564.9,514.6 L566.9,503.5 L567.4,503.9 L567.6,511.2 L569.4,503.6 L571.4,504.1 L571.6,510.4 L573.9,507.7 L575.9,507.2 L576.1,509.2 L578.4,505.9 L581.4,505.2 L581.6,520.7 L583.0,504.2 L583.5,504.1 L583.7,517.4 L585.1,505.1 L585.6,504.9 L585.8,514.1 L588.0,504.7 L590.0,505.4 L590.2,508.6 L592.3,504.5 L592.8,504.7 L593.0,514.3 L594.6,506.7 L595.6,507.5 L595.8,511.2 L597.5,506.4 L598.5,507.1 L598.7,512.9 L600.3,506.3 L602.3,505.8 L602.5,512.3 L604.3,504.2 L605.3,503.3 L605.5,511.0 L607.7,507.1 L608.7,506.2 L608.9,510.1 L610.5,506.6 L612.5,506.9 L612.7,513.6 L613.9,505.9 L614.9,505.8 L615.1,508.5 L616.6,506.4 L617.6,506.2 L617.8,514.7 L618.8,505.7 L619.8,505.0 L620.0,512.4 L622.3,504.2 L623.3,504.1 L623.5,508.3 L626.2,504.1 L626.7,503.4 L626.9,511.3 L628.7,507.1 L629.7,507.7 L629.9,514.4 L631.8,505.4 L632.3,505.2 L632.5,510.3 L633.9,505.4 L634.4,506.0 L634.6,512.2 L636.5,504.8 L637.5,504.9 L637.7,508.8 L640.0,505.0 L642.0,505.8 L642.2,514.8 L643.4,504.5 L644.4,505.2 L644.6,511.2 L646.2,504.3 L649.2,504.5 L649.4,511.5 L651.5,507.0 L654.5,507.6 L654.7,516.5 L656.2,507.6 L657.2,506.8 L657.4,510.3 L659.4,506.6 L660.4,507.3 L660.6,511.2 L662.1,504.0 L663.1,504.8 L663.3,509.9 L664.5,506.4 L665.0,506.4 L665.2,516.9 L666.4,506.6 L667.4,507.2 L667.6,519.4 L669.2,504.4 L672.2,505.0 L672.4,509.0 L673.7,507.1 L676.7,507.2 L676.9,510.3 L678.7,505.8 L680.7,505.5 L680.9,515.9 L683.6,506.1 L684.6,505.8 L684.8,508.9 L686.9,504.3 L689.9,503.6 L690.1,517.6 L692.7,506.9 L693.2,506.9 L693.4,518.4 L694.7,505.4 L697.7,505.9 L697.9,517.9 L700.3,505.5 L701.3,506.0 L701.5,520.7 L701.7,500.0 L701.8,510.0 L703.9,504.1 L704.9,504.3 L705.1,511.9 L706.7,507.1 L707.2,507.1 L707.4,512.5 L708.9,506.4 L711.9,506.9 L712.1,509.6 L714.2,503.7 L714.7,504.0 L714.9,508.7 L716.3,506.1 L716.8,507.0 L717.0,511.3 L719.1,506.5 L719.3,498.0 L719.4,510.0 L721.1,505.8 L721.3,519.5 L723.9,504.0 L724.9,503.9 L725.1,513.7 L726.2,507.6 L726.7,507.1 L726.9,511.6 L729.3,505.6 L731.3,506.1 L731.5,517.0 L734.1,507.9 L735.1,507.2 L735.3,510.8 L738.0,507.5 L739.0,508.2 L739.2,509.6 L740.8,504.1 L743.8,504.5 L744.0,509.7 L745.4,505.5 L746.4,504.9 L746.6,520.5 L748.0,505.6 L748.5,506.1 L748.7,510.3 L750.4,507.1 L751.4,507.9 L751.6,509.5 L753.2,503.9 L754.2,503.3 L754.4,514.0 L756.0,507.3 L757.0,506.7 L757.2,519.9 L759.1,504.8 L760.1,505.4 L760.3,508.4 L762.8,505.4 L764.8,505.8 L765.0,509.1 L766.1,505.4 L769.1,504.9 L769.3,517.3 L771.0,503.7 L774.0,503.7 L774.2,509.3 L775.4,504.8 L775.9,504.3 L776.1,517.8 L778.4,503.5 L781.4,503.6 L781.6,508.5 L783.9,505.7 L784.9,505.5 L785.1,510.0 L787.8,507.0 L788.8,507.4 L789.0,510.7 L791.1,507.2 L791.6,507.9 L791.8,517.3 L793.8,506.2 L794.8,505.9 L795.0,514.3 L797.0,506.9 L799.0,506.1 L799.2,512.1 L801.0,507.5 L803.0,508.3 L803.2,515.2 L804.4,506.8 L804.9,507.0 L805.1,508.4 L806.9,504.3 L809.9,505.0 L810.1,514.0 L811.9,506.5 L812.4,505.9 L812.6,510.6 L814.5,504.9 L815.0,505.8 L815.2,519.6 L816.6,505.6 L818.6,505.8 L818.8,513.0 L820.4,503.9 L821.4,504.9 L821.6,520.6 L823.8,504.0 L824.3,504.8 L824.5,508.5 L827.2,506.7 L829.2,506.0 L829.4,512.5 L830.5,494.0 L830.6,510.0 L831.7,506.2 L832.7,506.7 L832.9,509.3 L835.6,506.8 L836.1,507.7 L836.3,519.7 L838.8,506.1 L839.3,506.8 L839.5,519.0 L840.6,505.8 L842.6,504.9 L842.8,511.4 L845.3,504.9 L847.3,504.7 L847.5,508.3 L850.1,507.1 L852.1,508.0 L852.3,510.2 L854.7,504.2 L856.7,505.0 L856.9,514.1 L859.6,506.2 L860.6,506.5 L860.8,512.3 L862.9,506.3 L863.9,505.4 L864.1,509.7 L866.8,506.0 L867.3,506.3 L867.5,512.0 L870.2,508.0 L872.2,508.5 L872.4,511.0 L873.7,505.1 L874.2,504.2 L874.4,518.0 L877.2,507.3 L880.2,508.3 L880.4,512.5 L882.1,505.0 L883.1,504.1 L883.3,509.6 L884.5,506.1 L886.5,506.6 L886.7,510.5 L888.3,506.3 L889.3,506.5 L889.5,509.6 L891.5,506.6 L892.5,506.6 L892.7,509.3 L894.6,505.1 L895.6,506.0 L895.8,519.4 L898.5,504.9 L900.5,504.0 L900.7,511.7 L903.2,507.0 L904.2,507.6 L904.4,510.2 L906.3,504.9 L907.3,504.0 L907.5,512.1 L909.8,503.9 L910.8,503.5 L911.0,509.6 L913.1,508.0 L914.1,508.8 L914.3,511.0 L916.7,505.8 L917.7,505.3 L917.9,510.9 L920.4,507.3 L922.4,508.0 L922.6,510.2 L924.1,503.5 L926.1,503.9 L926.3,511.6 L928.5,507.0 L931.5,506.2 L931.7,512.2 L934.3,504.8 L934.8,505.4 L935.0,509.0 L936.0,506.9 L939.0,506.9 L939.2,512.5 L941.5,505.3 L942.5,504.8 L942.7,508.1 L945.1,506.1 L947.1,505.8 L947.3,515.5 L949.8,504.0 L950.3,503.7 L950.5,510.6 L952.0,505.0 L953.0,504.4 L953.2,512.8 L955.8,505.9 L956.3,506.6 L956.5,514.7 L957.8,503.5 L958.8,504.2 L959.0,513.4 L961.7,507.3 L962.7,506.5 L962.9,508.3 L964.7,504.7 L965.2,504.2 L965.4,512.0 L966.4,505.9 L968.4,506.8 L968.6,509.1 L970.0,504.8 L973.0,505.7 L973.2,509.7 L975.7,503.7 L977.7,504.5 L977.9,512.9 L979.3,507.7 L980.3,508.7 L980.5,510.4 L982.1,507.2 L984.1,506.5 L984.3,508.7 L985.6,506.4 L988.6,505.7 L988.8,508.7" fill="none" stroke="#56b4e9" stroke-width="1.00" shape-rendering="crispEdges"/>
<path d="M94.6,505.8 L95.1,505.1 L95.3,509.5 L98.0,504.2 L99.0,504.5 L99.2,510.9 L101.6,503.5 L102.1,504.4 L102.3,510.0 L103.7,504.5 L105.7,503.5 L105.9,515.1 L107.9,505.0 L108.9,504.9 L109.1,512.4 L110.5,504.6 L112.5,504.1 L112.7,514.5 L114.9,506.2 L117.9,505.7 L118.1,514.5 L118.5,473.0 L118.6,510.0 L119.5,505.0 L120.5,505.3 L120.7,517.3 L121.9,504.6 L122.9,503.7 L123.1,508.7 L125.3,503.8 L127.3,504.8 L127.5,511.4" fill="none" stroke="#56b4e9" stroke-width="1.00" shape-rendering="crispEdges"/>
<path d="M94.6,506.4 H172 L989.6,520" stroke="#56b4e9" stroke-width="1" fill="none" shape-rendering="crispEdges"/>
</g>
<rect x="163.6" y="418.1" width="12" height="12" fill="none" stroke="#e69f00" stroke-width="1.1"/>
<rect x="163.2" y="467.9" width="12.8" height="12.8" fill="#f0e442"/>
<rect x="293.6" y="467.9" width="12.8" height="12.8" fill="#f0e442"/>
<rect x="356.9" y="467.9" width="12.8" height="12.8" fill="#f0e442"/>
<rect x="523.1" y="467.9" width="12.8" height="12.8" fill="#f0e442"/>
<rect x="610.8" y="467.9" width="12.8" height="12.8" fill="#f0e442"/>
<rect x="745.1" y="467.9" width="12.8" height="12.8" fill="#f0e442"/>
<rect x="774.0" y="467.9" width="12.8" height="12.8" fill="#f0e442"/>
<rect x="874.0" y="467.9" width="12.8" height="12.8" fill="#f0e442"/>
<circle cx="95.5" cy="495.2" r="5.15" fill="none" stroke="#0072b2" stroke-width="1.3"/>
<path d="M95.5,489.9 v-1 M95.5,500.5 v1 M90.2,495.2 h-1 M100.8,495.2 h1" stroke="#0072b2" stroke-width="1"/>
<circle cx="128.7" cy="490.5" r="5.15" fill="none" stroke="#0072b2" stroke-width="1.3"/>
<path d="M128.7,485.2 v-1 M128.7,495.8 v1 M123.4,490.5 h-1 M134.0,490.5 h1" stroke="#0072b2" stroke-width="1"/>
<circle cx="170.5" cy="500.4" r="5.15" fill="none" stroke="#0072b2" stroke-width="1.3"/>
<path d="M170.5,495.1 v-1 M170.5,505.7 v1 M165.2,500.4 h-1 M175.8,500.4 h1" stroke="#0072b2" stroke-width="1"/>
<circle cx="203.5" cy="495.5" r="5.15" fill="none" stroke="#0072b2" stroke-width="1.3"/>
<path d="M203.5,490.2 v-1 M203.5,500.8 v1 M198.2,495.5 h-1 M208.8,495.5 h1" stroke="#0072b2" stroke-width="1"/>
<circle cx="207.7" cy="502.0" r="5.15" fill="none" stroke="#0072b2" stroke-width="1.3"/>
<path d="M207.7,496.7 v-1 M207.7,507.3 v1 M202.4,502.0 h-1 M213.0,502.0 h1" stroke="#0072b2" stroke-width="1"/>
<circle cx="240.3" cy="499.7" r="5.15" fill="none" stroke="#0072b2" stroke-width="1.3"/>
<path d="M240.3,494.4 v-1 M240.3,505.0 v1 M235.0,499.7 h-1 M245.6,499.7 h1" stroke="#0072b2" stroke-width="1"/>
<circle cx="244.7" cy="498.5" r="5.15" fill="none" stroke="#0072b2" stroke-width="1.3"/>
<path d="M244.7,493.2 v-1 M244.7,503.8 v1 M239.4,498.5 h-1 M250.0,498.5 h1" stroke="#0072b2" stroke-width="1"/>
<circle cx="277.0" cy="497.5" r="5.15" fill="none" stroke="#0072b2" stroke-width="1.3"/>
<path d="M277.0,492.2 v-1 M277.0,502.8 v1 M271.7,497.5 h-1 M282.3,497.5 h1" stroke="#0072b2" stroke-width="1"/>
<circle cx="282.5" cy="502.6" r="5.15" fill="none" stroke="#0072b2" stroke-width="1.3"/>
<path d="M282.5,497.3 v-1 M282.5,507.9 v1 M277.2,502.6 h-1 M287.8,502.6 h1" stroke="#0072b2" stroke-width="1"/>
<circle cx="315.3" cy="487.2" r="5.15" fill="none" stroke="#0072b2" stroke-width="1.3"/>
<path d="M315.3,481.9 v-1 M315.3,492.5 v1 M310.0,487.2 h-1 M320.6,487.2 h1" stroke="#0072b2" stroke-width="1"/>
<circle cx="319.3" cy="503.7" r="5.15" fill="none" stroke="#0072b2" stroke-width="1.3"/>
<path d="M319.3,498.4 v-1 M319.3,509.0 v1 M314.0,503.7 h-1 M324.6,503.7 h1" stroke="#0072b2" stroke-width="1"/>
<circle cx="352.0" cy="497.5" r="5.15" fill="none" stroke="#0072b2" stroke-width="1.3"/>
<path d="M352.0,492.2 v-1 M352.0,502.8 v1 M346.7,497.5 h-1 M357.3,497.5 h1" stroke="#0072b2" stroke-width="1"/>
<circle cx="356.0" cy="500.4" r="5.15" fill="none" stroke="#0072b2" stroke-width="1.3"/>
<path d="M356.0,495.1 v-1 M356.0,505.7 v1 M350.7,500.4 h-1 M361.3,500.4 h1" stroke="#0072b2" stroke-width="1"/>
<circle cx="388.7" cy="497.0" r="5.15" fill="none" stroke="#0072b2" stroke-width="1.3"/>
<path d="M388.7,491.7 v-1 M388.7,502.3 v1 M383.4,497.0 h-1 M394.0,497.0 h1" stroke="#0072b2" stroke-width="1"/>
<circle cx="394.7" cy="496.0" r="5.15" fill="none" stroke="#0072b2" stroke-width="1.3"/>
<path d="M394.7,490.7 v-1 M394.7,501.3 v1 M389.4,496.0 h-1 M400.0,496.0 h1" stroke="#0072b2" stroke-width="1"/>
<circle cx="427.4" cy="496.0" r="5.15" fill="none" stroke="#0072b2" stroke-width="1.3"/>
<path d="M427.4,490.7 v-1 M427.4,501.3 v1 M422.1,496.0 h-1 M432.7,496.0 h1" stroke="#0072b2" stroke-width="1"/>
<circle cx="431.5" cy="501.5" r="5.15" fill="none" stroke="#0072b2" stroke-width="1.3"/>
<path d="M431.5,496.2 v-1 M431.5,506.8 v1 M426.2,501.5 h-1 M436.8,501.5 h1" stroke="#0072b2" stroke-width="1"/>
<circle cx="464.2" cy="496.7" r="5.15" fill="none" stroke="#0072b2" stroke-width="1.3"/>
<path d="M464.2,491.4 v-1 M464.2,502.0 v1 M458.9,496.7 h-1 M469.5,496.7 h1" stroke="#0072b2" stroke-width="1"/>
<circle cx="468.2" cy="492.3" r="5.15" fill="none" stroke="#0072b2" stroke-width="1.3"/>
<path d="M468.2,487.0 v-1 M468.2,497.6 v1 M462.9,492.3 h-1 M473.5,492.3 h1" stroke="#0072b2" stroke-width="1"/>
<circle cx="501.2" cy="496.0" r="5.15" fill="none" stroke="#0072b2" stroke-width="1.3"/>
<path d="M501.2,490.7 v-1 M501.2,501.3 v1 M495.9,496.0 h-1 M506.5,496.0 h1" stroke="#0072b2" stroke-width="1"/>
<circle cx="505.7" cy="498.5" r="5.15" fill="none" stroke="#0072b2" stroke-width="1.3"/>
<path d="M505.7,493.2 v-1 M505.7,503.8 v1 M500.4,498.5 h-1 M511.0,498.5 h1" stroke="#0072b2" stroke-width="1"/>
<circle cx="538.2" cy="495.5" r="5.15" fill="none" stroke="#0072b2" stroke-width="1.3"/>
<path d="M538.2,490.2 v-1 M538.2,500.8 v1 M532.9,495.5 h-1 M543.5,495.5 h1" stroke="#0072b2" stroke-width="1"/>
<circle cx="543.7" cy="499.5" r="5.15" fill="none" stroke="#0072b2" stroke-width="1.3"/>
<path d="M543.7,494.2 v-1 M543.7,504.8 v1 M538.4,499.5 h-1 M549.0,499.5 h1" stroke="#0072b2" stroke-width="1"/>
<circle cx="575.5" cy="497.3" r="5.15" fill="none" stroke="#0072b2" stroke-width="1.3"/>
<path d="M575.5,492.0 v-1 M575.5,502.6 v1 M570.2,497.3 h-1 M580.8,497.3 h1" stroke="#0072b2" stroke-width="1"/>
<circle cx="580.5" cy="495.0" r="5.15" fill="none" stroke="#0072b2" stroke-width="1.3"/>
<path d="M580.5,489.7 v-1 M580.5,500.3 v1 M575.2,495.0 h-1 M585.8,495.0 h1" stroke="#0072b2" stroke-width="1"/>
<circle cx="613.4" cy="496.3" r="5.15" fill="none" stroke="#0072b2" stroke-width="1.3"/>
<path d="M613.4,491.0 v-1 M613.4,501.6 v1 M608.1,496.3 h-1 M618.7,496.3 h1" stroke="#0072b2" stroke-width="1"/>
<circle cx="617.6" cy="497.0" r="5.15" fill="none" stroke="#0072b2" stroke-width="1.3"/>
<path d="M617.6,491.7 v-1 M617.6,502.3 v1 M612.3,497.0 h-1 M622.9,497.0 h1" stroke="#0072b2" stroke-width="1"/>
<circle cx="650.2" cy="493.0" r="5.15" fill="none" stroke="#0072b2" stroke-width="1.3"/>
<path d="M650.2,487.7 v-1 M650.2,498.3 v1 M644.9,493.0 h-1 M655.5,493.0 h1" stroke="#0072b2" stroke-width="1"/>
<circle cx="654.7" cy="499.0" r="5.15" fill="none" stroke="#0072b2" stroke-width="1.3"/>
<path d="M654.7,493.7 v-1 M654.7,504.3 v1 M649.4,499.0 h-1 M660.0,499.0 h1" stroke="#0072b2" stroke-width="1"/>
<circle cx="688.7" cy="494.0" r="5.15" fill="none" stroke="#0072b2" stroke-width="1.3"/>
<path d="M688.7,488.7 v-1 M688.7,499.3 v1 M683.4,494.0 h-1 M694.0,494.0 h1" stroke="#0072b2" stroke-width="1"/>
<circle cx="692.7" cy="499.3" r="5.15" fill="none" stroke="#0072b2" stroke-width="1.3"/>
<path d="M692.7,494.0 v-1 M692.7,504.6 v1 M687.4,499.3 h-1 M698.0,499.3 h1" stroke="#0072b2" stroke-width="1"/>
<circle cx="725.7" cy="491.5" r="5.15" fill="none" stroke="#0072b2" stroke-width="1.3"/>
<path d="M725.7,486.2 v-1 M725.7,496.8 v1 M720.4,491.5 h-1 M731.0,491.5 h1" stroke="#0072b2" stroke-width="1"/>
<circle cx="729.5" cy="494.5" r="5.15" fill="none" stroke="#0072b2" stroke-width="1.3"/>
<path d="M729.5,489.2 v-1 M729.5,499.8 v1 M724.2,494.5 h-1 M734.8,494.5 h1" stroke="#0072b2" stroke-width="1"/>
<circle cx="762.1" cy="496.3" r="5.15" fill="none" stroke="#0072b2" stroke-width="1.3"/>
<path d="M762.1,491.0 v-1 M762.1,501.6 v1 M756.8,496.3 h-1 M767.4,496.3 h1" stroke="#0072b2" stroke-width="1"/>
<circle cx="766.6" cy="498.2" r="5.15" fill="none" stroke="#0072b2" stroke-width="1.3"/>
<path d="M766.6,492.9 v-1 M766.6,503.5 v1 M761.3,498.2 h-1 M771.9,498.2 h1" stroke="#0072b2" stroke-width="1"/>
<circle cx="799.3" cy="495.5" r="5.15" fill="none" stroke="#0072b2" stroke-width="1.3"/>
<path d="M799.3,490.2 v-1 M799.3,500.8 v1 M794.0,495.5 h-1 M804.6,495.5 h1" stroke="#0072b2" stroke-width="1"/>
<circle cx="804.5" cy="491.2" r="5.15" fill="none" stroke="#0072b2" stroke-width="1.3"/>
<path d="M804.5,485.9 v-1 M804.5,496.5 v1 M799.2,491.2 h-1 M809.8,491.2 h1" stroke="#0072b2" stroke-width="1"/>
<circle cx="837.2" cy="493.7" r="5.15" fill="none" stroke="#0072b2" stroke-width="1.3"/>
<path d="M837.2,488.4 v-1 M837.2,499.0 v1 M831.9,493.7 h-1 M842.5,493.7 h1" stroke="#0072b2" stroke-width="1"/>
<circle cx="841.4" cy="496.5" r="5.15" fill="none" stroke="#0072b2" stroke-width="1.3"/>
<path d="M841.4,491.2 v-1 M841.4,501.8 v1 M836.1,496.5 h-1 M846.7,496.5 h1" stroke="#0072b2" stroke-width="1"/>
<circle cx="874.4" cy="495.2" r="5.15" fill="none" stroke="#0072b2" stroke-width="1.3"/>
<path d="M874.4,489.9 v-1 M874.4,500.5 v1 M869.1,495.2 h-1 M879.7,495.2 h1" stroke="#0072b2" stroke-width="1"/>
<circle cx="878.5" cy="499.3" r="5.15" fill="none" stroke="#0072b2" stroke-width="1.3"/>
<path d="M878.5,494.0 v-1 M878.5,504.6 v1 M873.2,499.3 h-1 M883.8,499.3 h1" stroke="#0072b2" stroke-width="1"/>
<circle cx="911.4" cy="497.2" r="5.15" fill="none" stroke="#0072b2" stroke-width="1.3"/>
<path d="M911.4,491.9 v-1 M911.4,502.5 v1 M906.1,497.2 h-1 M916.7,497.2 h1" stroke="#0072b2" stroke-width="1"/>
<circle cx="916.4" cy="497.2" r="5.15" fill="none" stroke="#0072b2" stroke-width="1.3"/>
<path d="M916.4,491.9 v-1 M916.4,502.5 v1 M911.1,497.2 h-1 M921.7,497.2 h1" stroke="#0072b2" stroke-width="1"/>
<circle cx="949.3" cy="497.5" r="5.15" fill="none" stroke="#0072b2" stroke-width="1.3"/>
<path d="M949.3,492.2 v-1 M949.3,502.8 v1 M944.0,497.5 h-1 M954.6,497.5 h1" stroke="#0072b2" stroke-width="1"/>
<circle cx="953.5" cy="495.0" r="5.15" fill="none" stroke="#0072b2" stroke-width="1.3"/>
<path d="M953.5,489.7 v-1 M953.5,500.3 v1 M948.2,495.0 h-1 M958.8,495.0 h1" stroke="#0072b2" stroke-width="1"/>
<circle cx="986.4" cy="493.0" r="5.15" fill="none" stroke="#0072b2" stroke-width="1.3"/>
<path d="M986.4,487.7 v-1 M986.4,498.3 v1 M981.1,493.0 h-1 M991.7,493.0 h1" stroke="#0072b2" stroke-width="1"/>
<circle cx="95.3" cy="519.6" r="5.6" fill="#e51e10"/>
<path d="M95.3,514.2 v-1 M95.3,525.0 v1 M89.9,519.6 h-1 M100.7,519.6 h1" stroke="#e51e10" stroke-width="1"/>
<circle cx="128.4" cy="519.6" r="5.6" fill="#e51e10"/>
<path d="M128.4,514.2 v-1 M128.4,525.0 v1 M123.0,519.6 h-1 M133.8,519.6 h1" stroke="#e51e10" stroke-width="1"/>
<circle cx="170.3" cy="519.6" r="5.6" fill="#e51e10"/>
<path d="M170.3,514.2 v-1 M170.3,525.0 v1 M164.9,519.6 h-1 M175.7,519.6 h1" stroke="#e51e10" stroke-width="1"/>
<circle cx="986.4" cy="519.6" r="5.6" fill="#e51e10"/>
<path d="M986.4,514.2 v-1 M986.4,525.0 v1 M981.0,519.6 h-1 M991.8,519.6 h1" stroke="#e51e10" stroke-width="1"/>
<rect x="196.0" y="514.1" width="18.2" height="11.4" rx="5.7" fill="#e51e10"/>
<path d="M201.7,514.3 v-1 M208.5,514.3 v-1 M201.7,525.3 v1 M208.5,525.3 v1 M196.2,519.8 h-1 M214.0,519.8 h1" stroke="#e51e10" stroke-width="1"/>
<rect x="234.3" y="514.1" width="16.2" height="11.4" rx="5.7" fill="#e51e10"/>
<path d="M240.0,514.3 v-1 M244.8,514.3 v-1 M240.0,525.3 v1 M244.8,525.3 v1 M234.5,519.8 h-1 M250.3,519.8 h1" stroke="#e51e10" stroke-width="1"/>
<rect x="271.6" y="514.1" width="16.2" height="11.4" rx="5.7" fill="#e51e10"/>
<path d="M277.3,514.3 v-1 M282.1,514.3 v-1 M277.3,525.3 v1 M282.1,525.3 v1 M271.8,519.8 h-1 M287.6,519.8 h1" stroke="#e51e10" stroke-width="1"/>
<rect x="308.9" y="514.1" width="16.2" height="11.4" rx="5.7" fill="#e51e10"/>
<path d="M314.6,514.3 v-1 M319.4,514.3 v-1 M314.6,525.3 v1 M319.4,525.3 v1 M309.1,519.8 h-1 M324.9,519.8 h1" stroke="#e51e10" stroke-width="1"/>
<rect x="346.1" y="514.1" width="16.2" height="11.4" rx="5.7" fill="#e51e10"/>
<path d="M351.8,514.3 v-1 M356.6,514.3 v-1 M351.8,525.3 v1 M356.6,525.3 v1 M346.3,519.8 h-1 M362.1,519.8 h1" stroke="#e51e10" stroke-width="1"/>
<rect x="383.4" y="514.1" width="16.2" height="11.4" rx="5.7" fill="#e51e10"/>
<path d="M389.1,514.3 v-1 M393.9,514.3 v-1 M389.1,525.3 v1 M393.9,525.3 v1 M383.6,519.8 h-1 M399.4,519.8 h1" stroke="#e51e10" stroke-width="1"/>
<rect x="420.7" y="514.1" width="16.2" height="11.4" rx="5.7" fill="#e51e10"/>
<path d="M426.4,514.3 v-1 M431.2,514.3 v-1 M426.4,525.3 v1 M431.2,525.3 v1 M420.9,519.8 h-1 M436.7,519.8 h1" stroke="#e51e10" stroke-width="1"/>
<rect x="458.0" y="514.1" width="16.2" height="11.4" rx="5.7" fill="#e51e10"/>
<path d="M463.7,514.3 v-1 M468.5,514.3 v-1 M463.7,525.3 v1 M468.5,525.3 v1 M458.2,519.8 h-1 M474.0,519.8 h1" stroke="#e51e10" stroke-width="1"/>
<rect x="495.3" y="514.1" width="16.2" height="11.4" rx="5.7" fill="#e51e10"/>
<path d="M501.0,514.3 v-1 M505.8,514.3 v-1 M501.0,525.3 v1 M505.8,525.3 v1 M495.5,519.8 h-1 M511.3,519.8 h1" stroke="#e51e10" stroke-width="1"/>
<rect x="532.6" y="514.1" width="16.2" height="11.4" rx="5.7" fill="#e51e10"/>
<path d="M538.3,514.3 v-1 M543.1,514.3 v-1 M538.3,525.3 v1 M543.1,525.3 v1 M532.8,519.8 h-1 M548.6,519.8 h1" stroke="#e51e10" stroke-width="1"/>
<rect x="569.9" y="514.1" width="16.2" height="11.4" rx="5.7" fill="#e51e10"/>
<path d="M575.6,514.3 v-1 M580.4,514.3 v-1 M575.6,525.3 v1 M580.4,525.3 v1 M570.1,519.8 h-1 M585.9,519.8 h1" stroke="#e51e10" stroke-width="1"/>
<rect x="607.2" y="514.1" width="16.2" height="11.4" rx="5.7" fill="#e51e10"/>
<path d="M612.9,514.3 v-1 M617.7,514.3 v-1 M612.9,525.3 v1 M617.7,525.3 v1 M607.4,519.8 h-1 M623.2,519.8 h1" stroke="#e51e10" stroke-width="1"/>
<rect x="644.5" y="514.1" width="16.2" height="11.4" rx="5.7" fill="#e51e10"/>
<path d="M650.2,514.3 v-1 M655.0,514.3 v-1 M650.2,525.3 v1 M655.0,525.3 v1 M644.7,519.8 h-1 M660.5,519.8 h1" stroke="#e51e10" stroke-width="1"/>
<rect x="681.8" y="514.1" width="16.2" height="11.4" rx="5.7" fill="#e51e10"/>
<path d="M687.5,514.3 v-1 M692.3,514.3 v-1 M687.5,525.3 v1 M692.3,525.3 v1 M682.0,519.8 h-1 M697.8,519.8 h1" stroke="#e51e10" stroke-width="1"/>
<rect x="719.1" y="514.1" width="16.2" height="11.4" rx="5.7" fill="#e51e10"/>
<path d="M724.8,514.3 v-1 M729.6,514.3 v-1 M724.8,525.3 v1 M729.6,525.3 v1 M719.3,519.8 h-1 M735.1,519.8 h1" stroke="#e51e10" stroke-width="1"/>
<rect x="756.4" y="514.1" width="16.2" height="11.4" rx="5.7" fill="#e51e10"/>
<path d="M762.1,514.3 v-1 M766.9,514.3 v-1 M762.1,525.3 v1 M766.9,525.3 v1 M756.6,519.8 h-1 M772.4,519.8 h1" stroke="#e51e10" stroke-width="1"/>
<rect x="793.6" y="514.1" width="16.2" height="11.4" rx="5.7" fill="#e51e10"/>
<path d="M799.3,514.3 v-1 M804.1,514.3 v-1 M799.3,525.3 v1 M804.1,525.3 v1 M793.8,519.8 h-1 M809.6,519.8 h1" stroke="#e51e10" stroke-width="1"/>
<rect x="830.9" y="514.1" width="16.2" height="11.4" rx="5.7" fill="#e51e10"/>
<path d="M836.6,514.3 v-1 M841.4,514.3 v-1 M836.6,525.3 v1 M841.4,525.3 v1 M831.1,519.8 h-1 M846.9,519.8 h1" stroke="#e51e10" stroke-width="1"/>
<rect x="868.2" y="514.1" width="16.2" height="11.4" rx="5.7" fill="#e51e10"/>
<path d="M873.9,514.3 v-1 M878.7,514.3 v-1 M873.9,525.3 v1 M878.7,525.3 v1 M868.4,519.8 h-1 M884.2,519.8 h1" stroke="#e51e10" stroke-width="1"/>
<rect x="905.5" y="514.1" width="16.2" height="11.4" rx="5.7" fill="#e51e10"/>
<path d="M911.2,514.3 v-1 M916.0,514.3 v-1 M911.2,525.3 v1 M916.0,525.3 v1 M905.7,519.8 h-1 M921.5,519.8 h1" stroke="#e51e10" stroke-width="1"/>
<rect x="942.8" y="514.1" width="16.2" height="11.4" rx="5.7" fill="#e51e10"/>
<path d="M948.5,514.3 v-1 M953.3,514.3 v-1 M948.5,525.3 v1 M953.3,525.3 v1 M943.0,519.8 h-1 M958.8,519.8 h1" stroke="#e51e10" stroke-width="1"/>
<path d="M169.6,444.5 L177.8,456.5 L161.4,456.5 Z" fill="none" stroke="#000" stroke-width="1.1"/>
<path d="M474.2,444.5 L482.4,456.5 L466.0,456.5 Z" fill="none" stroke="#000" stroke-width="1.1"/>
<path d="M561.4,444.5 L569.6,456.5 L553.2,456.5 Z" fill="none" stroke="#000" stroke-width="1.1"/>
<path d="M930.2,444.5 L938.4,456.5 L922.0,456.5 Z" fill="none" stroke="#000" stroke-width="1.1"/>
<path d="M163.3,413.1 H175.9 M169.6,406.8 V419.4" stroke="#9400d3" stroke-width="1.1"/>
<path d="M94.6,74.6 H989.6 V522.4 H94.6 Z" fill="none" stroke="#000" stroke-width="1"/>
<path d="M923,90.4 H970" stroke="#9400d3" stroke-width="1.1"/>
<path d="M923,109.4 H970" stroke="#009e73" stroke-width="1.1"/>
<path d="M923,128.4 H970" stroke="#56b4e9" stroke-width="1.1"/>
<rect x="940.5" y="141.4" width="12" height="12" fill="none" stroke="#e69f00" stroke-width="1.1"/>
<rect x="940.1" y="160.0" width="12.8" height="12.8" fill="#f0e442"/>
<circle cx="946.5" cy="185.4" r="5.15" fill="none" stroke="#0072b2" stroke-width="1.3"/>
<path d="M946.5,180.1 v-1 M946.5,190.7 v1 M941.2,185.4 h-1 M951.8,185.4 h1" stroke="#0072b2" stroke-width="1"/>
<circle cx="946.5" cy="204.4" r="5.6" fill="#e51e10"/>
<path d="M946.5,199.0 v-1 M946.5,209.8 v1 M941.1,204.4 h-1 M951.9,204.4 h1" stroke="#e51e10" stroke-width="1"/>
<path d="M946.5,215.4 L954.7,227.4 L938.3,227.4 Z" fill="none" stroke="#000" stroke-width="1.1"/>
<path d="M940.2,242.4 H952.8 M946.5,236.1 V248.7" stroke="#9400d3" stroke-width="1.1"/>
</svg></body></html>
